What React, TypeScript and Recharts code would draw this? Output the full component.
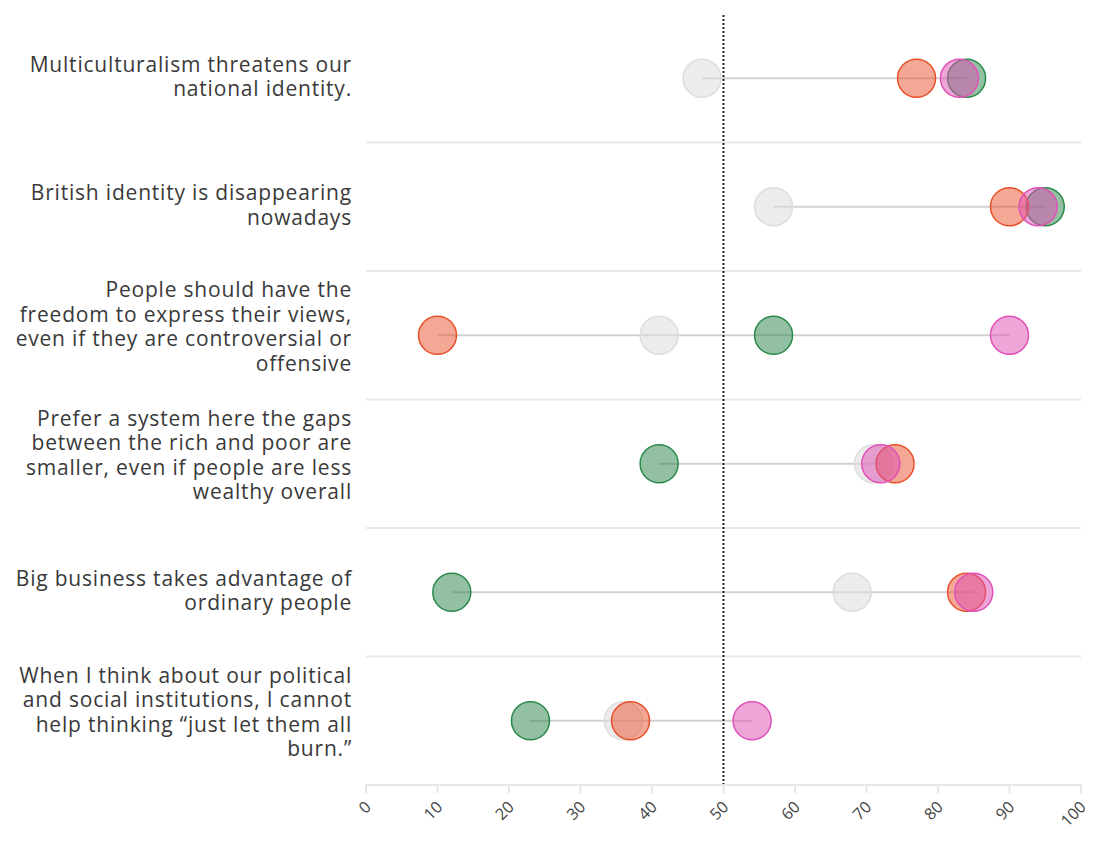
import React from 'react';
import { ScatterChart, Scatter, XAxis, YAxis, ReferenceLine } from 'recharts';

const statements: string[][] = [
  ['Multiculturalism threatens our', 'national identity.'],
  ['British identity is disappearing', 'nowadays'],
  ['People should have the', 'freedom to express their views,', 'even if they are controversial or', 'offensive'],
  ['Prefer a system here the gaps', 'between the rich and poor are', 'smaller, even if people are less', 'wealthy overall'],
  ['Big business takes advantage of', 'ordinary people'],
  ['When I think about our political', 'and social institutions, I cannot', 'help thinking \u201cjust let them all', 'burn.\u201d'],
];

const greyValues = [47, 57, 41, 71, 68, 36];
const greenValues = [84, 95, 57, 41, 12, 23];
const orangeValues = [77, 90, 10, 74, 84, 37];
const pinkValues = [83, 94, 90, 72, 85, 54];
const rangeLow = [47, 57, 10, 41, 12, 23];
const rangeHigh = [84, 95, 90, 72, 85, 54];

const xTicks = [0, 10, 20, 30, 40, 50, 60, 70, 80, 90, 100];
const rowTicks = statements.map((_, i) => i + 0.5);
const separators = [1, 2, 3, 4, 5];

const FONT = '"Open Sans", Lato, sans-serif';

const toPoints = (vals: number[]) => vals.map((v, i) => ({ x: v, y: i + 0.5 }));

const makeDot = (fill: string, stroke: string, opacity: number) => (props: any) => {
  const { cx, cy } = props;
  if (cx == null || cy == null) return <g />;
  return <circle cx={cx} cy={cy} r={19} fill={fill} fillOpacity={opacity} stroke={stroke} strokeWidth={1.5} />;
};

const YTick = (props: any) => {
  const { x, y, payload } = props;
  const idx = Math.floor(payload.value);
  const lines = statements[idx] || [];
  const n = lines.length;
  const lh = 24.5;
  const start = y - ((n - 1) * lh) / 2 - 2.5 - (n - 2) * 3.5;
  return (
    <text
      x={x}
      y={start}
      textAnchor="end"
      fill="#3a3a3a"
      fontSize={21}
      fontWeight={400}
      letterSpacing={0.8}
      fontFamily={FONT}
      dominantBaseline="central"
    >
      {lines.map((l, i) => (
        <tspan key={i} x={x} y={start + i * lh}>
          {l}
        </tspan>
      ))}
    </text>
  );
};

const XTick = (props: any) => {
  const { x, y, payload } = props;
  const ex = x + 6;
  const ey = y + 13;
  return (
    <text x={ex} y={ey} textAnchor="end" fill="#444" fontSize={16} fontWeight={400} fontFamily={FONT} transform={`rotate(-45, ${ex}, ${ey})`}>
      {payload.value}
    </text>
  );
};

export default function App() {
  return (
    <div style={{ width: 1085, height: 840 }}>
      <ScatterChart width={1085} height={840} margin={{ top: 6, right: 12, bottom: 0, left: 0 }} style={{ overflow: 'visible' }}>
        <XAxis
          type="number"
          dataKey="x"
          domain={[0, 100]}
          ticks={xTicks}
          interval={0}
          height={63}
          axisLine={{ stroke: '#e6e6e6', strokeWidth: 2 }}
          tickLine={{ stroke: '#e6e6e6', strokeWidth: 2 }}
          tickSize={8}
          tick={<XTick />}
        />
        <YAxis
          type="number"
          dataKey="y"
          domain={[0, 6]}
          reversed
          ticks={rowTicks}
          interval={0}
          width={358}
          axisLine={false}
          tickLine={false}
          tickSize={0}
          tickMargin={14}
          tick={<YTick />}
        />
        {separators.map((s) => (
          <ReferenceLine key={`sep${s}`} y={s} stroke="#e8e8e8" strokeWidth={2} />
        ))}
        {rangeLow.map((lo, i) => (
          <ReferenceLine
            key={`rng${i}`}
            segment={[
              { x: lo, y: i + 0.5 },
              { x: rangeHigh[i], y: i + 0.5 },
            ]}
            stroke="#d2d2d2"
            strokeWidth={2}
          />
        ))}
        <ReferenceLine x={50} stroke="#222" strokeWidth={2} strokeDasharray="2 2" />
        <Scatter data={toPoints(greyValues)} isAnimationActive={false} shape={makeDot('#dcdcdc', '#dddddd', 0.55)} />
        <Scatter data={toPoints(greenValues)} isAnimationActive={false} shape={makeDot('#277f45', '#2a8a4a', 0.5)} />
        <Scatter data={toPoints(orangeValues)} isAnimationActive={false} shape={makeDot('#e8502a', '#e8502a', 0.5)} />
        <Scatter data={toPoints(pinkValues)} isAnimationActive={false} shape={makeDot('#dd4db1', '#e050b8', 0.5)} />
      </ScatterChart>
    </div>
  );
}
